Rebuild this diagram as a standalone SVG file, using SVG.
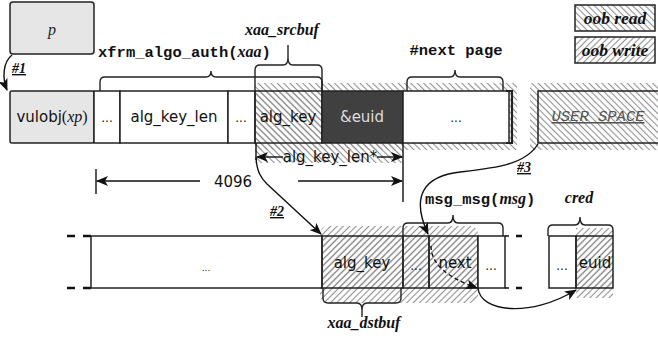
<svg xmlns="http://www.w3.org/2000/svg" width="658" height="338" viewBox="0 0 658 338">
  <defs>
    <!-- hatch fills: out-of-bounds read (\) and out-of-bounds write (/) -->
    <pattern id="read" width="4.5" height="4.5" patternUnits="userSpaceOnUse" patternTransform="rotate(-45)">
      <line x1="2.25" y1="0" x2="2.25" y2="4.5" stroke="#8f8f8f" stroke-width="1.1"/>
    </pattern>
    <pattern id="write" width="4.5" height="4.5" patternUnits="userSpaceOnUse" patternTransform="rotate(45)">
      <line x1="2.25" y1="0" x2="2.25" y2="4.5" stroke="#8f8f8f" stroke-width="1.1"/>
    </pattern>
    <marker id="arr" viewBox="0 0 12 10" refX="11" refY="5" markerWidth="12" markerHeight="10" markerUnits="userSpaceOnUse" orient="auto">
      <path d="M0,0 L12,5 L0,10 L3,5 Z" fill="#111"/>
    </marker>
  </defs>
  <style>
    .box { stroke: #222; stroke-width: 1.5; }
    .white { fill: #fff; }
    .grey { fill: #e6e6e6; }
    .hr { fill: url(#read); }
    .hw { fill: url(#write); }
    .brace { fill: none; stroke: #222; stroke-width: 1.4; }
    .conn { fill: none; stroke: #111; stroke-width: 1.4; }
    .comic { font-family: "DejaVu Sans", "Noto Sans", sans-serif; font-size: 15px; fill: #111; }
    .dots { font-family: "DejaVu Sans", sans-serif; font-size: 12px; fill: #111; }
    .mono { font-family: "Liberation Mono", monospace; font-weight: bold; font-size: 15.5px; fill: #111; }
    .serif { font-family: "Liberation Serif", serif; font-style: italic; font-weight: bold; font-size: 16px; fill: #111; }
    .legend { font-size: 17.5px; }
    .step { font-family: "Liberation Serif", serif; font-style: italic; font-weight: bold; font-size: 14px; fill: #111; text-decoration: underline; }
    .mid { text-anchor: middle; }
  </style>

  <!-- legend -->
  <g id="legend-read">
    <rect x="575" y="5" width="80" height="26" class="box hr"/>
    <text x="615" y="24" class="serif legend mid">oob read</text>
  </g>
  <g id="legend-write">
    <rect x="575" y="37" width="80" height="26" class="box hw"/>
    <text x="615" y="56" class="serif legend mid">oob write</text>
  </g>

  <!-- pointer p -->
  <g id="p">
    <rect x="10" y="2" width="84" height="52" rx="3" class="box grey"/>
    <text x="52" y="35" font-family="Liberation Serif, serif" font-style="italic" font-size="16" fill="#222" class="mid">p</text>
  </g>

  <!-- out-of-bounds read area around the source buffer -->
  <g id="read-area">
    <rect x="255" y="83" width="262" height="67" class="hr"/>
    <rect x="255" y="143" width="148" height="20" class="hr"/>
    <rect x="530" y="83" width="128" height="67" class="hr"/>
  </g>

  <!-- vulnerable object page -->
  <g id="vulobj">
    <rect x="10" y="91" width="84" height="52" rx="2" class="box grey"/>
    <text x="52" y="122" class="comic mid">vulobj<tspan font-family="Liberation Serif, serif" font-size="16">(<tspan font-style="italic">xp</tspan>)</tspan></text>
  </g>
  <g id="pad1">
    <rect x="94" y="91" width="26" height="52" class="box white"/>
    <text x="107" y="122" class="dots mid">...</text>
  </g>
  <g id="alg_key_len">
    <rect x="120" y="91" width="108" height="52" class="box white"/>
    <text x="174" y="122" class="comic mid">alg_key_len</text>
  </g>
  <g id="pad2">
    <rect x="228" y="91" width="27" height="52" class="box white"/>
    <text x="241" y="122" class="dots mid">...</text>
  </g>
  <g id="alg_key_src">
    <rect x="255" y="91" width="67" height="52" class="box hr"/>
    <text x="288" y="122" class="comic mid">alg_key</text>
  </g>
  <g id="euid_ptr">
    <rect x="322" y="91" width="81" height="52" class="box" fill="#404040"/>
    <text x="362" y="122" class="comic mid" style="fill:#dcdcdc">&amp;euid</text>
  </g>
  <g id="next_page">
    <rect x="403" y="91" width="106" height="52" class="box white"/>
    <text x="456" y="122" class="dots mid">...</text>
    <path d="M506,91 H512 V143 H506" fill="none" stroke="#222" stroke-width="2.2"/>
  </g>
  <g id="user_space">
    <path d="M662,91 H538 V143 H662" class="box" fill="none"/>
    <text x="598" y="121" font-family="Liberation Mono, monospace" font-style="italic" font-size="15.5" fill="#555" text-decoration="underline" class="mid">USER SPACE</text>
  </g>

  <!-- out-of-bounds write area -->
  <g id="write-area">
    <rect x="320" y="226" width="158" height="77" rx="8" class="hw"/>
    <rect x="576" y="228" width="37" height="70" class="hw"/>
  </g>

  <!-- destination page -->
  <g id="dst_page">
    <path d="M67,236 H75 M83,236 H91 M67,288 H75 M83,288 H91" stroke="#111" stroke-width="2.4"/>
    <rect x="91" y="236" width="231" height="52" class="box white"/>
    <text x="206" y="271" font-family="DejaVu Sans, sans-serif" font-size="9" fill="#111" class="mid">...</text>
  </g>
  <g id="alg_key_dst">
    <rect x="322" y="236" width="81" height="52" class="box hw"/>
    <text x="362" y="268" class="comic mid">alg_key</text>
  </g>
  <g id="msg_pad">
    <rect x="403" y="236" width="26" height="52" class="box hw"/>
    <text x="416" y="270" class="dots mid">...</text>
  </g>
  <g id="msg_next">
    <rect x="429" y="236" width="49" height="52" class="box hw"/>
    <text x="455" y="268" class="comic mid">next</text>
  </g>
  <g id="msg_rest">
    <rect x="478" y="236" width="27" height="52" class="box white"/>
    <text x="491" y="270" class="dots mid">...</text>
    <path d="M505,236 H509 M505,288 H509" stroke="#111" stroke-width="1.6"/>
    <path d="M516,236 H522 M516,288 H522" stroke="#111" stroke-width="2.4"/>
  </g>
  <g id="cred">
    <rect x="549" y="236" width="27" height="52" class="box white"/>
    <text x="562" y="270" class="dots mid">...</text>
    <rect x="576" y="236" width="37" height="52" class="box hw"/>
    <text x="595" y="268" class="comic mid">euid</text>
  </g>

  <!-- braces and their labels -->
  <g id="labels">
    <path class="brace" d="M100,91 V82 Q100,77 105,77 H206 Q211,77 211,71 Q211,77 216,77 H317 Q322,77 322,82 V91"/>
    <text x="98" y="57" class="mono">xfrm_algo_auth(<tspan class="serif">xaa</tspan>)</text>

    <path class="brace" d="M255,91 V70 Q255,65 260,65 H283 Q288,65 288,58 V45 M288,58 Q288,65 293,65 H317 Q322,65 322,70 V91"/>
    <text x="282" y="35" class="serif mid">xaa_srcbuf</text>

    <path class="brace" d="M407,91 V82 Q407,77 412,77 H450 Q455,77 455,70 Q455,77 460,77 H498 Q503,77 503,82 V91"/>
    <text x="456" y="55" class="mono mid">#next page</text>

    <path class="brace" d="M403,236 V228 Q403,223 408,223 H448 Q453,223 453,215 Q453,223 458,223 H498 Q503,223 503,228 V236"/>
    <text x="425" y="204" class="mono">msg_msg(<tspan class="serif">msg</tspan>)</text>

    <path class="brace" d="M548,236 V230 Q548,225 553,225 H575 Q580,225 580,217 Q580,225 585,225 H608 Q613,225 613,230 V236"/>
    <text x="579" y="203" class="serif mid">cred</text>

    <path class="brace" d="M323,288 V298 Q323,303 328,303 H357 Q362,303 362,310 V317 M362,310 Q362,303 367,303 H396 Q401,303 401,298 V288"/>
    <text x="364" y="328" class="serif mid">xaa_dstbuf</text>
  </g>

  <!-- size dimensions -->
  <g id="dimensions">
    <line x1="256" y1="143" x2="256" y2="160" class="conn"/>
    <line x1="403" y1="143" x2="403" y2="202" class="conn"/>
    <path d="M283,157 H257" class="conn" marker-end="url(#arr)"/>
    <path d="M377,157 H402" class="conn" marker-end="url(#arr)"/>
    <text x="330" y="162" class="comic mid">alg_key_len*</text>
    <line x1="96" y1="169" x2="96" y2="194" class="conn"/>
    <path d="M200,181 H97" class="conn" marker-end="url(#arr)"/>
    <path d="M298,181 H402" class="conn" marker-end="url(#arr)"/>
    <text x="233" y="187" class="comic mid" font-size="16">4096</text>
  </g>

  <!-- exploitation steps -->
  <g id="connectors">
    <path d="M12,55 C3,62 2,78 7,90" class="conn" marker-end="url(#arr)"/>
    <text x="12" y="73" class="step">#1</text>

    <path d="M256,158 C257,172 261,178 267,184 L321,234" class="conn" marker-end="url(#arr)"/>
    <text x="270" y="216" class="step">#2</text>

    <path d="M538,144 C525,165 495,168 460,172 C425,176 410,195 428,234" class="conn" marker-end="url(#arr)"/>
    <text x="517" y="172" class="step">#3</text>

    <path d="M431,246 Q431,272 477,288" class="conn" stroke-dasharray="4,3" marker-end="url(#arr)"/>
    <path d="M478,288 C480,312 530,318 576,290" class="conn" marker-end="url(#arr)"/>
  </g>
</svg>
